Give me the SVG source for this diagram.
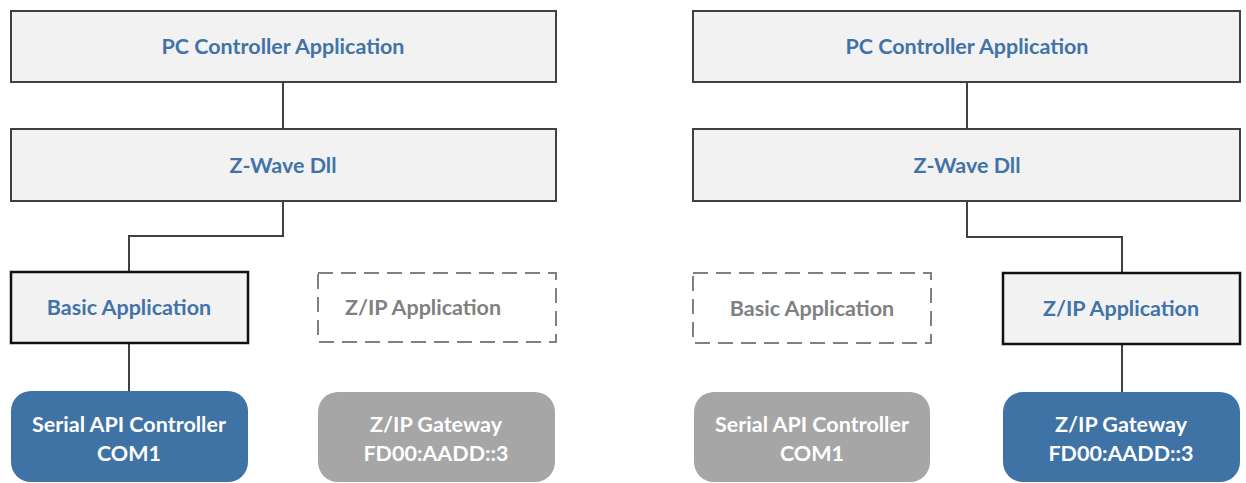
<svg xmlns="http://www.w3.org/2000/svg" width="1246" height="483" viewBox="0 0 1246 483">
<style>
.box{fill:#f2f2f2;stroke:#404040;stroke-width:2}
.act{fill:#f2f2f2;stroke:#111;stroke-width:2.5}
.dash{fill:none;stroke:#808080;stroke-width:2;stroke-dasharray:15 8}
.blue{fill:#3f72a5}
.gray{fill:#a6a6a6}
.t{font-family:Lato,"Open Sans","Liberation Sans",sans-serif;font-weight:bold;font-size:21.5px;text-anchor:middle}
.tb{fill:#4173a8}
.tg{fill:#808080}
.tw{fill:#ffffff}
.conn{fill:none;stroke:#404040;stroke-width:2}
</style>
<g id="connectors">
<path class="conn" d="M283 82V129"/>
<path class="conn" d="M283 201V236H129V272"/>
<path class="conn" d="M129 343V391"/>
<path class="conn" d="M967 82V129"/>
<path class="conn" d="M967 201V237H1122V273"/>
<path class="conn" d="M1122 344V392"/>
</g>
<g id="l-pc"><rect class="box" x="11" y="11" width="545" height="71"/><text class="t tb" x="283" y="54">PC Controller Application</text></g>
<g id="l-dll"><rect class="box" x="11" y="129" width="545" height="72"/><text class="t tb" x="283" y="173">Z-Wave Dll</text></g>
<g id="l-basic"><rect class="act" x="11" y="272" width="237" height="71"/><text class="t tb" x="129" y="315">Basic Application</text></g>
<g id="l-zip"><rect class="dash" x="318" y="273" width="238" height="69"/><text class="t tg" x="423" y="315">Z/IP Application</text></g>
<g id="l-serial"><rect class="blue" x="11" y="391" width="237" height="91" rx="20"/><text class="t tw" x="129" y="432">Serial API Controller</text><text class="t tw" x="129" y="461">COM1</text></g>
<g id="l-gw"><rect class="gray" x="318" y="392" width="237" height="90" rx="20"/><text class="t tw" x="436" y="432">Z/IP Gateway</text><text class="t tw" x="436" y="461">FD00:AADD::3</text></g>
<g id="r-pc"><rect class="box" x="693" y="11" width="547" height="71"/><text class="t tb" x="967" y="54">PC Controller Application</text></g>
<g id="r-dll"><rect class="box" x="693" y="129" width="547" height="72"/><text class="t tb" x="967" y="173">Z-Wave Dll</text></g>
<g id="r-basic"><rect class="dash" x="693" y="273" width="238" height="70"/><text class="t tg" x="812" y="316">Basic Application</text></g>
<g id="r-zip"><rect class="act" x="1003" y="273" width="237" height="71"/><text class="t tb" x="1121" y="316">Z/IP Application</text></g>
<g id="r-serial"><rect class="gray" x="694" y="392" width="236" height="90" rx="20"/><text class="t tw" x="812" y="432">Serial API Controller</text><text class="t tw" x="812" y="461">COM1</text></g>
<g id="r-gw"><rect class="blue" x="1003" y="392" width="237" height="90" rx="20"/><text class="t tw" x="1121" y="432">Z/IP Gateway</text><text class="t tw" x="1121" y="461">FD00:AADD::3</text></g>
</svg>
